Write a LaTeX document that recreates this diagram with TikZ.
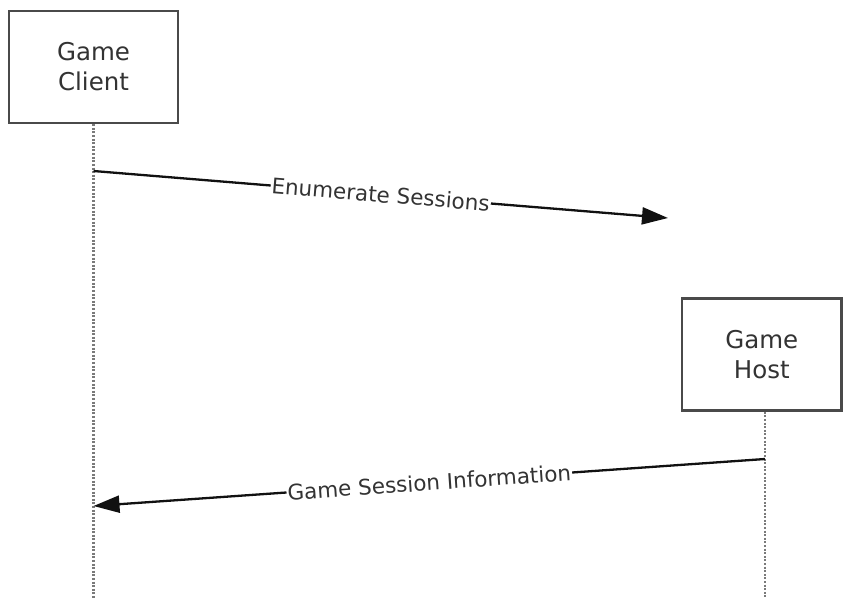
\documentclass[tikz,border=0pt]{standalone}
\usepackage{fontspec}
\setmainfont{DejaVu Sans}
\usetikzlibrary{arrows.meta}
\definecolor{boxgray}{HTML}{4A4A4A}
\definecolor{linegray}{HTML}{7A7A7A}
\definecolor{textgray}{HTML}{333333}
\definecolor{arrowblack}{HTML}{111111}

\begin{document}
\begin{tikzpicture}[x=1pt, y=-1pt,
		actor/.style={draw=boxgray, line width=2.6pt, fill=white, minimum height=112pt,
			align=center, text=textgray, font=\fontsize{24.5}{30}\selectfont},
		lifeline/.style={draw=linegray, line width=2.6pt, dash pattern=on 2pt off 1.6pt},
		msg/.style={draw=arrowblack, line width=2.3pt, -{Triangle[length=26pt, width=17pt]}},
		msglabel/.style={fill=white, inner sep=1pt, sloped, text=textgray,
			font=\fontsize{21.5}{25}\selectfont}]
	\useasboundingbox (0,0) rectangle (843,599);

	% participants
	\node[actor, minimum width=169pt] (client) at (93.5,67) {Game\\Client};
	\node[actor, minimum width=159.5pt] (host) at (761.75,354.5) {Game\\Host};

	% lifelines
	\coordinate (hostFoot) at ([xshift=3.25pt]host.south);
	\coordinate (clientEnd) at (client.south |- 0,599);
	\coordinate (hostEnd) at (hostFoot |- 0,599);
	\draw[lifeline] (client) -- (clientEnd);
	\draw[lifeline] (hostFoot) -- (hostEnd);

	% messages
	\coordinate (enumFrom) at (client.south |- 0,171);
	\coordinate (enumTo) at (668,218);
	\draw[msg] (enumFrom) -- node[msglabel] {Enumerate Sessions} (enumTo);

	\coordinate (infoFrom) at (hostFoot |- 0,459);
	\coordinate (infoTo) at (client.south |- 0,506);
	\draw[msg] (infoFrom) -- node[msglabel] {Game Session Information} (infoTo);
\end{tikzpicture}
\end{document}
